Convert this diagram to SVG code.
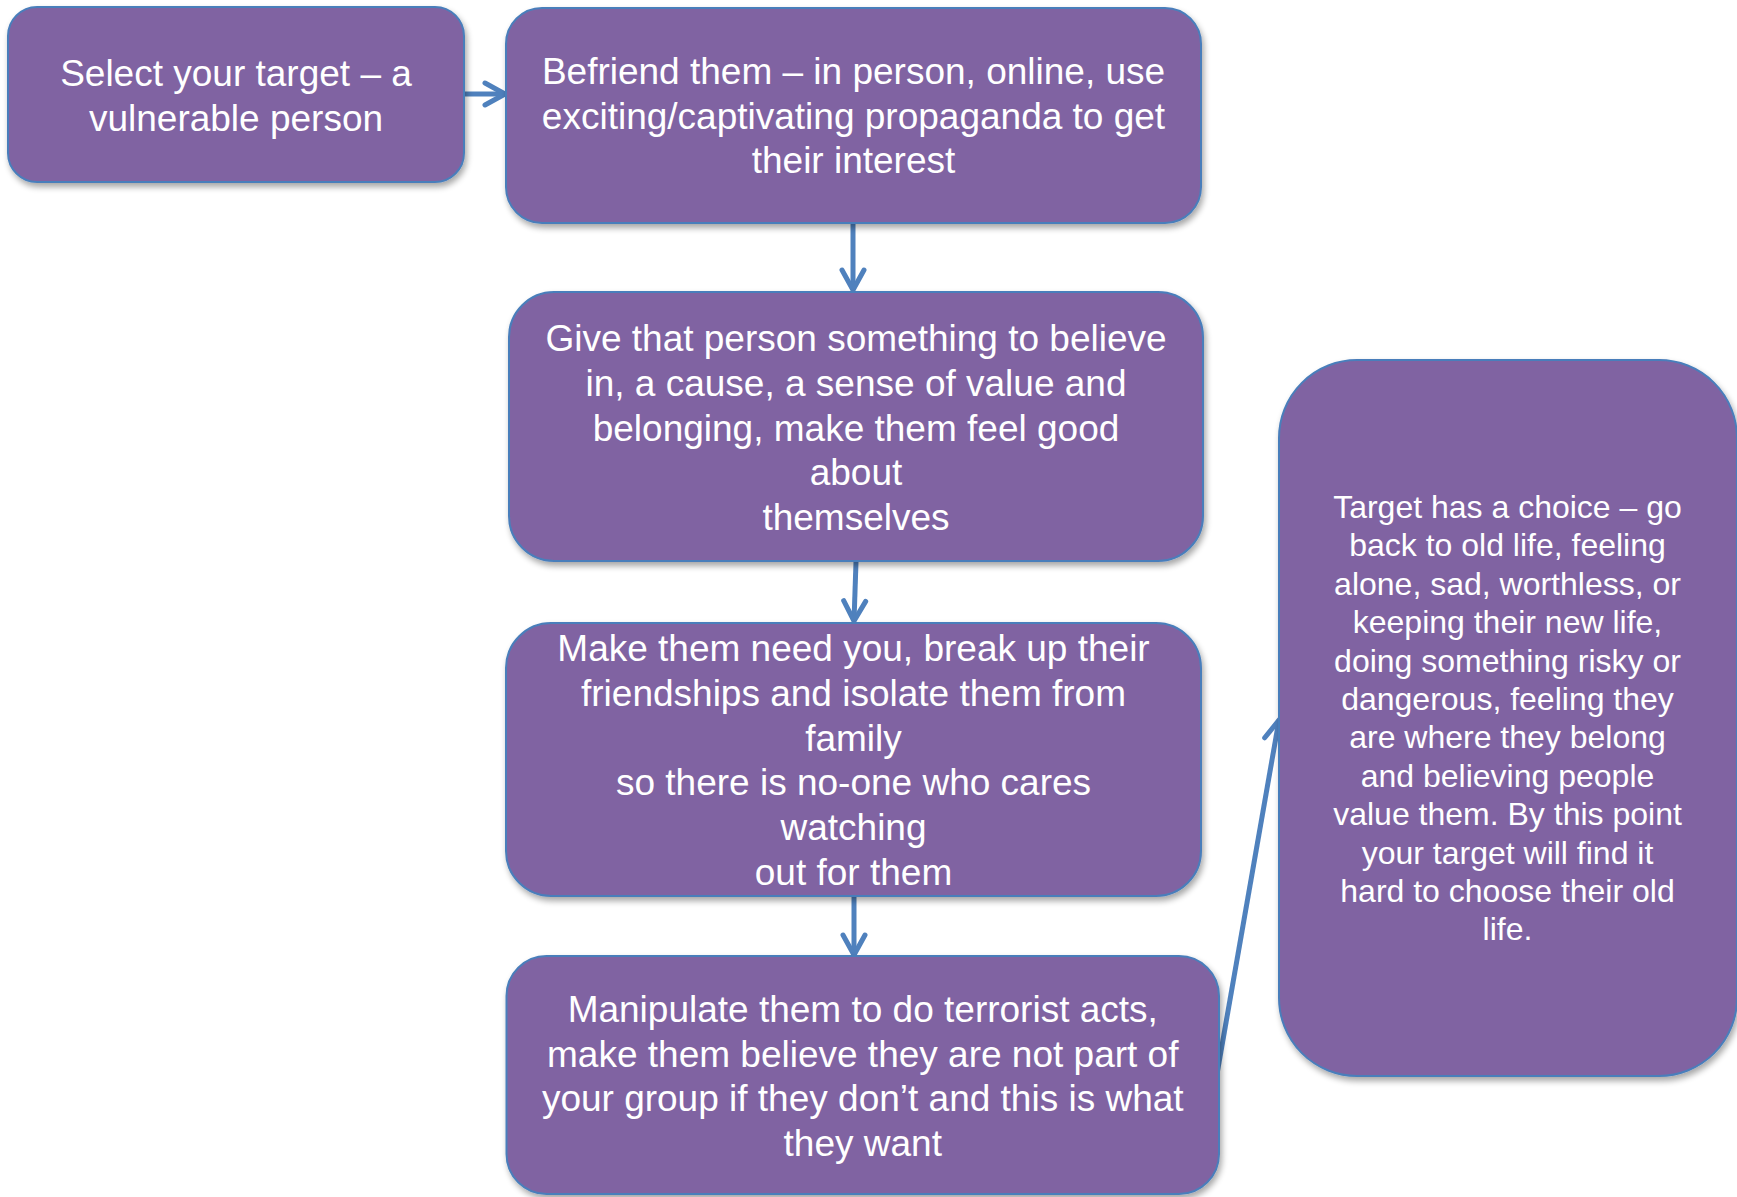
<svg xmlns="http://www.w3.org/2000/svg" width="1737" height="1197" viewBox="0 0 1737 1197">
<style>
.box{fill:#8064A2;stroke:#4A7EBB;stroke-width:2;filter:url(#sh)}
.t{font-family:"Liberation Sans",Arial,sans-serif;fill:#FFFFFF;text-anchor:middle}
.big{font-size:37px}
.small{font-size:32px}
.conn{stroke:#4F81BD;stroke-width:5;fill:none;marker-end:url(#ah)}
</style>
<defs>
<filter id="sh" x="-10%" y="-10%" width="125%" height="125%">
<feGaussianBlur in="SourceAlpha" stdDeviation="3"/>
<feOffset dx="2" dy="4" result="b"/>
<feComponentTransfer><feFuncA type="linear" slope="0.35"/></feComponentTransfer>
<feMerge><feMergeNode/><feMergeNode in="SourceGraphic"/></feMerge>
</filter>
<marker id="ah" viewBox="0 0 26 28" refX="23" refY="14" markerWidth="26" markerHeight="28" markerUnits="userSpaceOnUse" orient="auto">
<path d="M3,3 L23,14 L3,25" fill="none" stroke="#4F81BD" stroke-width="5" stroke-linecap="round" stroke-linejoin="round"/>
</marker>
</defs>
<g id="connectors">
<line class="conn" x1="464" y1="94" x2="505" y2="94"/>
<line class="conn" x1="853" y1="224" x2="853" y2="290"/>
<line class="conn" x1="856" y1="562" x2="854" y2="621"/>
<line class="conn" x1="854" y1="897" x2="854" y2="955"/>
<line class="conn" x1="1217" y1="1074" x2="1279" y2="720"/>
</g>
<g id="n1">
<rect class="box" x="8" y="7" width="456" height="175" rx="29"/>
<text class="t big" x="236" y="86">Select your target – a</text>
<text class="t big" x="236" y="131">vulnerable person</text>
</g>
<g id="n2">
<rect class="box" x="506" y="8" width="695" height="215" rx="36"/>
<text class="t big" x="853.5" y="84">Befriend them – in person, online, use</text>
<text class="t big" x="853.5" y="128.5">exciting/captivating propaganda to get</text>
<text class="t big" x="853.5" y="173">their interest</text>
</g>
<g id="n3">
<rect class="box" x="509" y="292" width="694" height="269" rx="45"/>
<text class="t big" x="856" y="351">Give that person something to believe</text>
<text class="t big" x="856" y="396">in, a cause, a sense of value and</text>
<text class="t big" x="856" y="441">belonging, make them feel good</text>
<text class="t big" x="856" y="485">about</text>
<text class="t big" x="856" y="530">themselves</text>
</g>
<g id="n4">
<rect class="box" x="506" y="623" width="695" height="273" rx="45"/>
<text class="t big" x="853.5" y="661">Make them need you, break up their</text>
<text class="t big" x="853.5" y="705.8">friendships and isolate them from</text>
<text class="t big" x="853.5" y="750.6">family</text>
<text class="t big" x="853.5" y="795.4">so there is no-one who cares</text>
<text class="t big" x="853.5" y="840.2">watching</text>
<text class="t big" x="853.5" y="885">out for them</text>
</g>
<g id="n5">
<rect class="box" x="506.5" y="956" width="712.5" height="238" rx="40"/>
<text class="t big" x="862.75" y="1022">Manipulate them to do terrorist acts,</text>
<text class="t big" x="862.75" y="1066.5">make them believe they are not part of</text>
<text class="t big" x="862.75" y="1111">your group if they don’t and this is what</text>
<text class="t big" x="862.75" y="1155.5">they want</text>
</g>
<g id="n6">
<rect class="box" x="1279" y="360" width="458" height="716" rx="78"/>
<text class="t small" x="1507.5" y="518">Target has a choice – go</text>
<text class="t small" x="1507.5" y="556.4">back to old life, feeling</text>
<text class="t small" x="1507.5" y="594.8">alone, sad, worthless, or</text>
<text class="t small" x="1507.5" y="633.2">keeping their new life,</text>
<text class="t small" x="1507.5" y="671.6">doing something risky or</text>
<text class="t small" x="1507.5" y="710">dangerous, feeling they</text>
<text class="t small" x="1507.5" y="748.4">are where they belong</text>
<text class="t small" x="1507.5" y="786.8">and believing people</text>
<text class="t small" x="1507.5" y="825.2">value them. By this point</text>
<text class="t small" x="1507.5" y="863.6">your target will find it</text>
<text class="t small" x="1507.5" y="902">hard to choose their old</text>
<text class="t small" x="1507.5" y="940.4">life.</text>
</g>
</svg>
